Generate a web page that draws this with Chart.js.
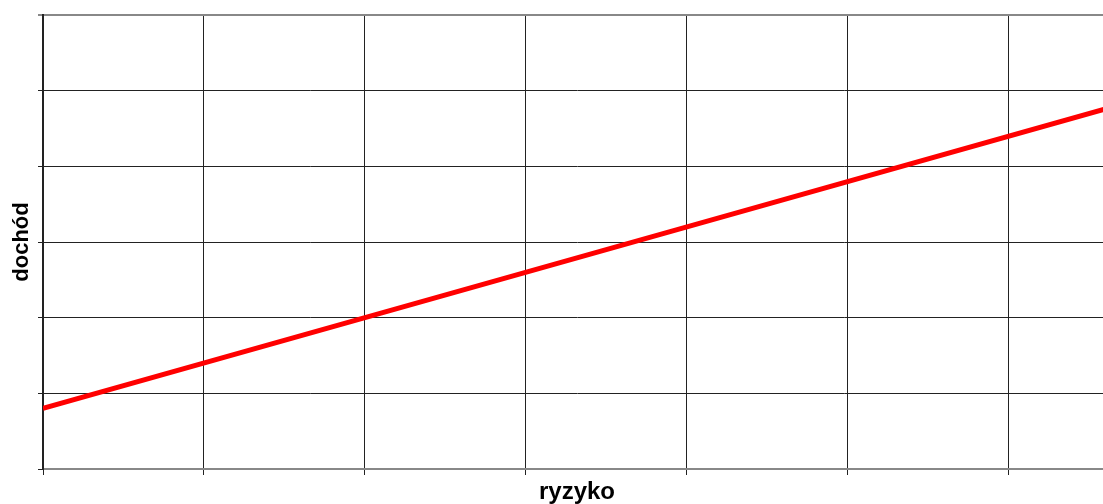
<!DOCTYPE html>
<html>
<head>
<meta charset="utf-8">
<script src="https://cdn.jsdelivr.net/npm/chart.js@4/dist/chart.umd.min.js"></script>
<style>
html,body{margin:0;padding:0;background:#fff;overflow:hidden;width:1103px;height:504px;}
canvas{display:block;}
</style>
</head>
<body>
<canvas id="c" width="1111" height="504"></canvas>
<script>
const riskValues = [0, 2, 4, 6.7];
const returnValues = [0.8, 2.0, 3.2, 4.82];
const xAxisTitle = 'ryzyko';
const yAxisTitle = 'dochód';
const seriesColor = '#ff0000';

const points = riskValues.map((x, i) => ({x: x, y: returnValues[i]}));
const fontFamily = "'Liberation Sans', Arial, sans-serif";

new Chart(document.getElementById('c'), {
  type: 'scatter',
  data: {
    datasets: [{
      data: points,
      showLine: true,
      borderColor: seriesColor,
      backgroundColor: seriesColor,
      borderWidth: 5,
      pointRadius: 0,
      pointHoverRadius: 0,
      tension: 0
    }]
  },
  options: {
    responsive: false,
    animation: false,
    events: [],
    layout: {padding: {top: 15, left: 0, right: 0, bottom: 0}},
    plugins: {legend: {display: false}, tooltip: {enabled: false}},
    scales: {
      x: {
        type: 'linear',
        min: 0,
        max: 6.634,
        afterFit: s => { s.height = 35; },
        ticks: {display: false, stepSize: 1},
        afterBuildTicks: s => { s.ticks = [0,1,2,3,4,5,6].map(v => ({value: v})); },
        grid: {color: '#222', lineWidth: 1, tickLength: 6, drawTicks: true},
        border: {display: true, color: '#888', width: 2},
        title: {display: true, text: xAxisTitle, color: '#000',
          font: {family: fontFamily, size: 24, weight: 'bold'},
          padding: {top: 0, bottom: -3}}
      },
      y: {
        type: 'linear',
        min: 0,
        max: 6,
        afterFit: s => { s.width = 43; },
        ticks: {display: false, stepSize: 1},
        grid: {
          color: ctx => ctx.tick && ctx.tick.value === 6 ? '#888' : '#222',
          lineWidth: ctx => ctx.tick && ctx.tick.value === 6 ? 2 : 1,
          tickLength: 5, drawTicks: true
        },
        border: {display: true, color: '#222', width: 2},
        title: {display: true, text: yAxisTitle, color: '#000',
          font: {family: fontFamily, size: 22, weight: 'bold'},
          padding: {top: 9, bottom: 0}}
      }
    }
  }
});
</script>
</body>
</html>
